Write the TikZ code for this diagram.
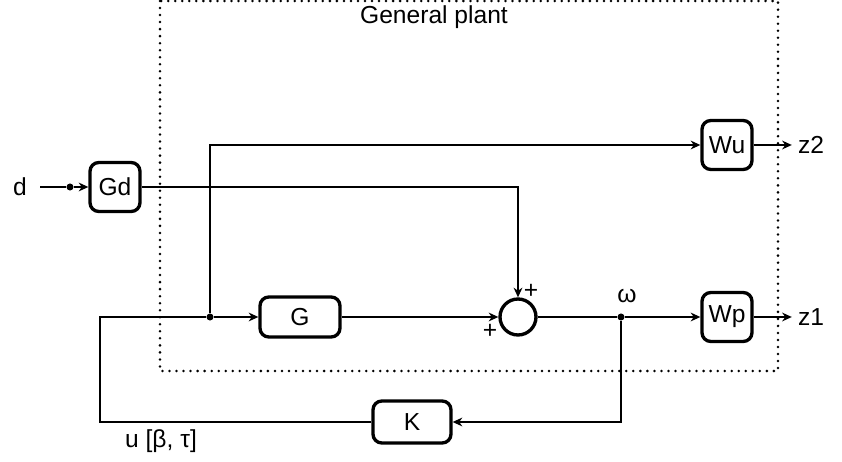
\documentclass[tikz,border=0pt]{standalone}
\usepackage{fontspec}
\setmainfont{Liberation Sans}
\usetikzlibrary{arrows.meta}

\begin{document}
\begin{tikzpicture}[x=0.02cm, y=-0.02cm, font=\fontsize{14}{16}\selectfont,
  blk/.style={draw, line width=1.9pt, rounded corners=5pt, inner sep=0pt},
  sig/.style={line width=0.85pt},
  arr/.style={sig, -{Stealth[length=5.5pt, width=5pt]}},
  dot/.style={circle, fill, inner sep=0pt, minimum size=4pt}]
  \useasboundingbox (0,0) rectangle (842,462);
  \draw[line width=1.6pt, line cap=round, dash pattern=on 0pt off 4pt] (160,1) rectangle (778,371);
  \node (title) at (434,17) {General plant};
  \node (d) at (20,187) {d};
  \coordinate (start) at (40,187);
  \node[dot] (din) at (70,187) {};
  \node[blk, minimum width=1cm, minimum height=0.98cm] (gd) at (115,187) {Gd};
  \node[blk, minimum width=1cm, minimum height=0.98cm] (wu) at (727,145) {Wu};
  \node[blk, minimum width=1cm, minimum height=0.98cm] (wp) at (727,317) {Wp};
  \node[blk, minimum width=1.6cm, minimum height=0.8cm] (g) at (300,317) {G};
  \node[blk, minimum width=1.56cm, minimum height=0.84cm] (k) at (412,422) {K};
  \node[draw, circle, line width=1.9pt, minimum size=0.72cm, inner sep=0pt] (sum) at (518,317) {};
  \node (p1) at (531,291) {+};
  \node (p2) at (490,331) {+};
  \node[dot] (split) at (210,317) {};
  \node[dot] (w) at (621,317) {};
  \node (wlbl) at (627,296) {ω};
  \node (z2) at (811,145) {z2};
  \node (z1) at (811,317) {z1};
  \node (u) at (161,441) {u [β, τ]};
  \coordinate (fb) at (100,317);
  \draw[arr] (start) -- (din) -- (gd);
  \draw[arr] (gd) -| (sum);
  \draw[arr] (split) |- (wu);
  \draw[arr] (split) -- (g);
  \draw[arr] (g) -- (sum);
  \draw[sig] (sum) -- (w);
  \draw[arr] (w) -- (wp);
  \draw[arr] (wu) -- (z2);
  \draw[arr] (wp) -- (z1);
  \draw[arr] (w) |- (k);
  \draw[sig] (k) -| (fb) -- (split);
\end{tikzpicture}
\end{document}
